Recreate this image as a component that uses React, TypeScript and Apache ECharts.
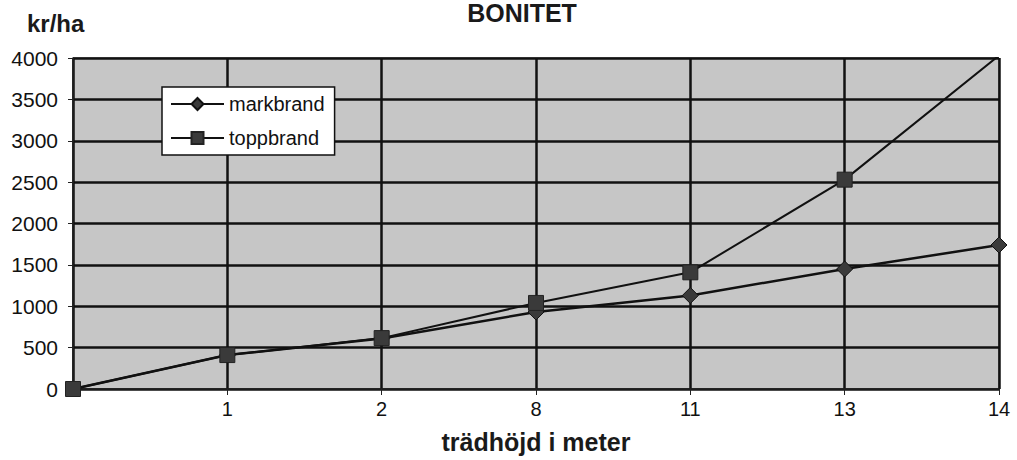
import React, { useEffect, useRef } from "react";
import * as echarts from "echarts";

const categories = ["", "1", "2", "8", "11", "13", "14"];
const markbrand = [0, 410, 610, 930, 1130, 1450, 1740];
const toppbrand = [0, 410, 615, 1040, 1410, 2530, 4030];
const yTicks = { min: 0, max: 4000, interval: 500 };

const FONT = "'Liberation Sans', Arial, sans-serif";

export default function App() {
  const ref = useRef<HTMLDivElement>(null);
  useEffect(() => {
    if (!ref.current) return;
    const chart = echarts.init(ref.current, null, { renderer: "svg" });
    chart.setOption({
      animation: false,
      backgroundColor: "#ffffff",
      textStyle: { fontFamily: FONT },
      title: [
        {
          text: "BONITET",
          left: 517,
          textAlign: "center",
          top: -5,
          textStyle: { fontFamily: FONT, fontSize: 25, fontWeight: "bold", color: "#1a1a1a" },
        },
        {
          text: "kr/ha",
          left: 22,
          top: 6,
          textStyle: { fontFamily: FONT, fontSize: 24, fontWeight: "bold", color: "#1a1a1a" },
        },
      ],
      legend: {
        orient: "vertical",
        left: 162,
        top: 87,
        backgroundColor: "#ffffff",
        borderColor: "#111",
        borderWidth: 1.5,
        borderRadius: 0,
        padding: [7, 10, 7, 8],
        itemWidth: 53,
        itemHeight: 15,
        itemGap: 14,
        textStyle: { fontFamily: FONT, fontSize: 20, color: "#111" },
        data: ["markbrand", "toppbrand"],
      },
      grid: {
        left: 73,
        right: 18,
        top: 58,
        bottom: 71,
        show: true,
        backgroundColor: "#c6c6c6",
        borderColor: "#222",
        borderWidth: 1,
      },
      xAxis: {
        type: "category",
        data: categories,
        boundaryGap: false,
        name: "trädhöjd i meter",
        nameLocation: "middle",
        nameGap: 40,
        nameTextStyle: { fontFamily: FONT, fontSize: 25, fontWeight: "bold", color: "#1a1a1a" },
        axisLine: { lineStyle: { color: "#222", width: 1.5 } },
        axisTick: { show: true, length: 6, alignWithLabel: true, lineStyle: { color: "#222" } },
        axisLabel: { fontFamily: FONT, fontSize: 20, color: "#111", margin: 10 },
        splitLine: { show: true, lineStyle: { color: "#111", width: 2.5 } },
      },
      yAxis: {
        type: "value",
        min: yTicks.min,
        max: yTicks.max,
        interval: yTicks.interval,
        axisLine: { show: true, lineStyle: { color: "#222", width: 1.5 } },
        axisTick: { show: true, length: 5, lineStyle: { color: "#222" } },
        axisLabel: {
          fontFamily: FONT,
          fontSize: 21,
          color: "#111",
          margin: 15,
          formatter: (v: number) => String(v),
        },
        splitLine: { show: true, lineStyle: { color: "#111", width: 2.5 } },
      },
      series: [
        {
          name: "markbrand",
          type: "line",
          data: markbrand,
          symbol: "diamond",
          symbolSize: 16,
          itemStyle: { color: "#3a3a3a", borderColor: "#111", borderWidth: 1 },
          lineStyle: { color: "#111", width: 2.5 },
          z: 3,
        },
        {
          name: "toppbrand",
          type: "line",
          data: toppbrand,
          symbol: "rect",
          symbolSize: 15,
          itemStyle: { color: "#3a3a3a", borderColor: "#222", borderWidth: 1 },
          lineStyle: { color: "#111", width: 2 },
          z: 4,
        },
      ],
    });
    return () => chart.dispose();
  }, []);
  return (
    <div
      ref={ref}
      style={{ position: "fixed", left: 0, top: 0, width: 1017, height: 460 }}
    />
  );
}
